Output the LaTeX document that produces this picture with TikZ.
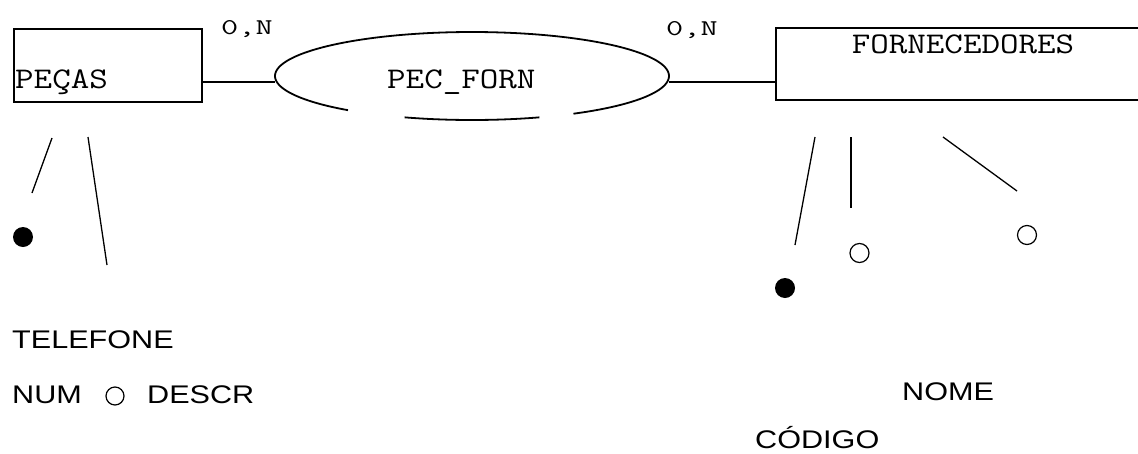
\documentclass[tikz,border=0pt]{standalone}
\usepackage{fontspec}
\usetikzlibrary{calc,shapes.geometric}
\newfontfamily\attrfont[FakeStretch=1.2]{Liberation Sans}
% typewriter labels, widened to the slab-serif proportions of the drawing
\newcommand\wideName[1]{\scalebox{1.2}[1]{#1}}
\newcommand\wideCard[1]{\scalebox{1.48}[1]{#1}}

\begin{document}
\begin{tikzpicture}[x=1pt,y=-1pt,
  entity/.style={draw, line width=1.8pt, rectangle, inner sep=0pt},
  relshape/.style={ellipse, inner sep=0pt, minimum width=394pt, minimum height=88pt},
  relout/.style={line width=1.8pt},
  linkline/.style={line width=1.2pt},
  attrline/.style={line width=1.3pt},
  keydot/.style={circle, fill=black, inner sep=0pt, minimum size=20pt},
  attrdot/.style={circle, draw, line width=1.2pt, inner sep=0pt, minimum size=19pt},
  entname/.style={font=\fontsize{30}{36}\selectfont\ttfamily, inner sep=0pt},
  cardtext/.style={font=\fontsize{22.5}{27}\selectfont\ttfamily, inner sep=0pt, anchor=base west},
  attrtext/.style={font=\attrfont\fontsize{25.5}{30}\selectfont, inner sep=0pt, anchor=base west}]

\useasboundingbox (0,0) rectangle (1138,453);
\clip (0,0) rectangle (1138,453);

% entities and relationship
\node[entity, minimum width=188pt, minimum height=73pt] (pecas) at (108,65.5) {};
\node[entity, minimum width=384pt, minimum height=72pt] (forn) at (968,64) {};
\node[relshape] (rel) at (472,76) {};

% relationship outline (broken along the bottom)
\draw[relout] plot[domain=-231:59, samples=160] ({472+197*cos(\x)},{76+44*sin(\x)});
\draw[relout] plot[domain=70:110, samples=40] ({472+197*cos(\x)},{76+44*sin(\x)});

% names
\node[entname, anchor=base west] (pecaslbl) at (15,88) {\wideName{PEÇAS}};
\node[entname, anchor=base] (fornlbl) at (963,53) {\wideName{FORNECEDORES}};
\node[entname, anchor=base west] (rellbl) at (387,88) {\wideName{PEC\_FORN}};

% cardinalities
\node[cardtext] (card1) at (221,34) {\wideCard{0,N}};
\node[cardtext] (card2) at (666,35) {\wideCard{0,N}};

% connectors between entities and relationship
\draw[linkline] ($(pecas.east)+(0,16.5)$) -- ($(rel.west)+(0,6)$);
\draw[linkline] ($(rel.east)+(0,6)$) -- ($(forn.west)+(0,18)$);

% attribute strokes
\coordinate (p1a) at (52,138);  \coordinate (p1b) at (32,193);
\coordinate (p2a) at (88,137);  \coordinate (p2b) at (107,265);
\coordinate (f1a) at (815,137); \coordinate (f1b) at (795,245);
\coordinate (f2a) at (851,137); \coordinate (f2b) at (851,208);
\coordinate (f3a) at (943,137); \coordinate (f3b) at (1017,191);
\draw[attrline] (p1a) -- (p1b);
\draw[attrline] (p2a) -- (p2b);
\draw[attrline] (f1a) -- (f1b);
\draw[attrline] (f2a) -- (f2b);
\draw[attrline] (f3a) -- (f3b);

% attribute markers
\node[keydot] (pkey) at (23,237) {};
\node[keydot] (fkey) at (785,288) {};
\node[attrdot] (fname) at (859.5,253) {};
\node[attrdot] (fextra) at (1027,235) {};
\node[attrdot, minimum size=18pt] (pdescr) at (115,396) {};

% attribute names
\node[attrtext] (tel) at (12,348) {TELEFONE};
\node[attrtext] (num) at (12,403) {NUM};
\node[attrtext] (descr) at (147,403) {DESCR};
\node[attrtext] (nome) at (902,400) {NOME};
\node[attrtext] (codigo) at (755,448) {CÓDIGO};
\end{tikzpicture}
\end{document}
